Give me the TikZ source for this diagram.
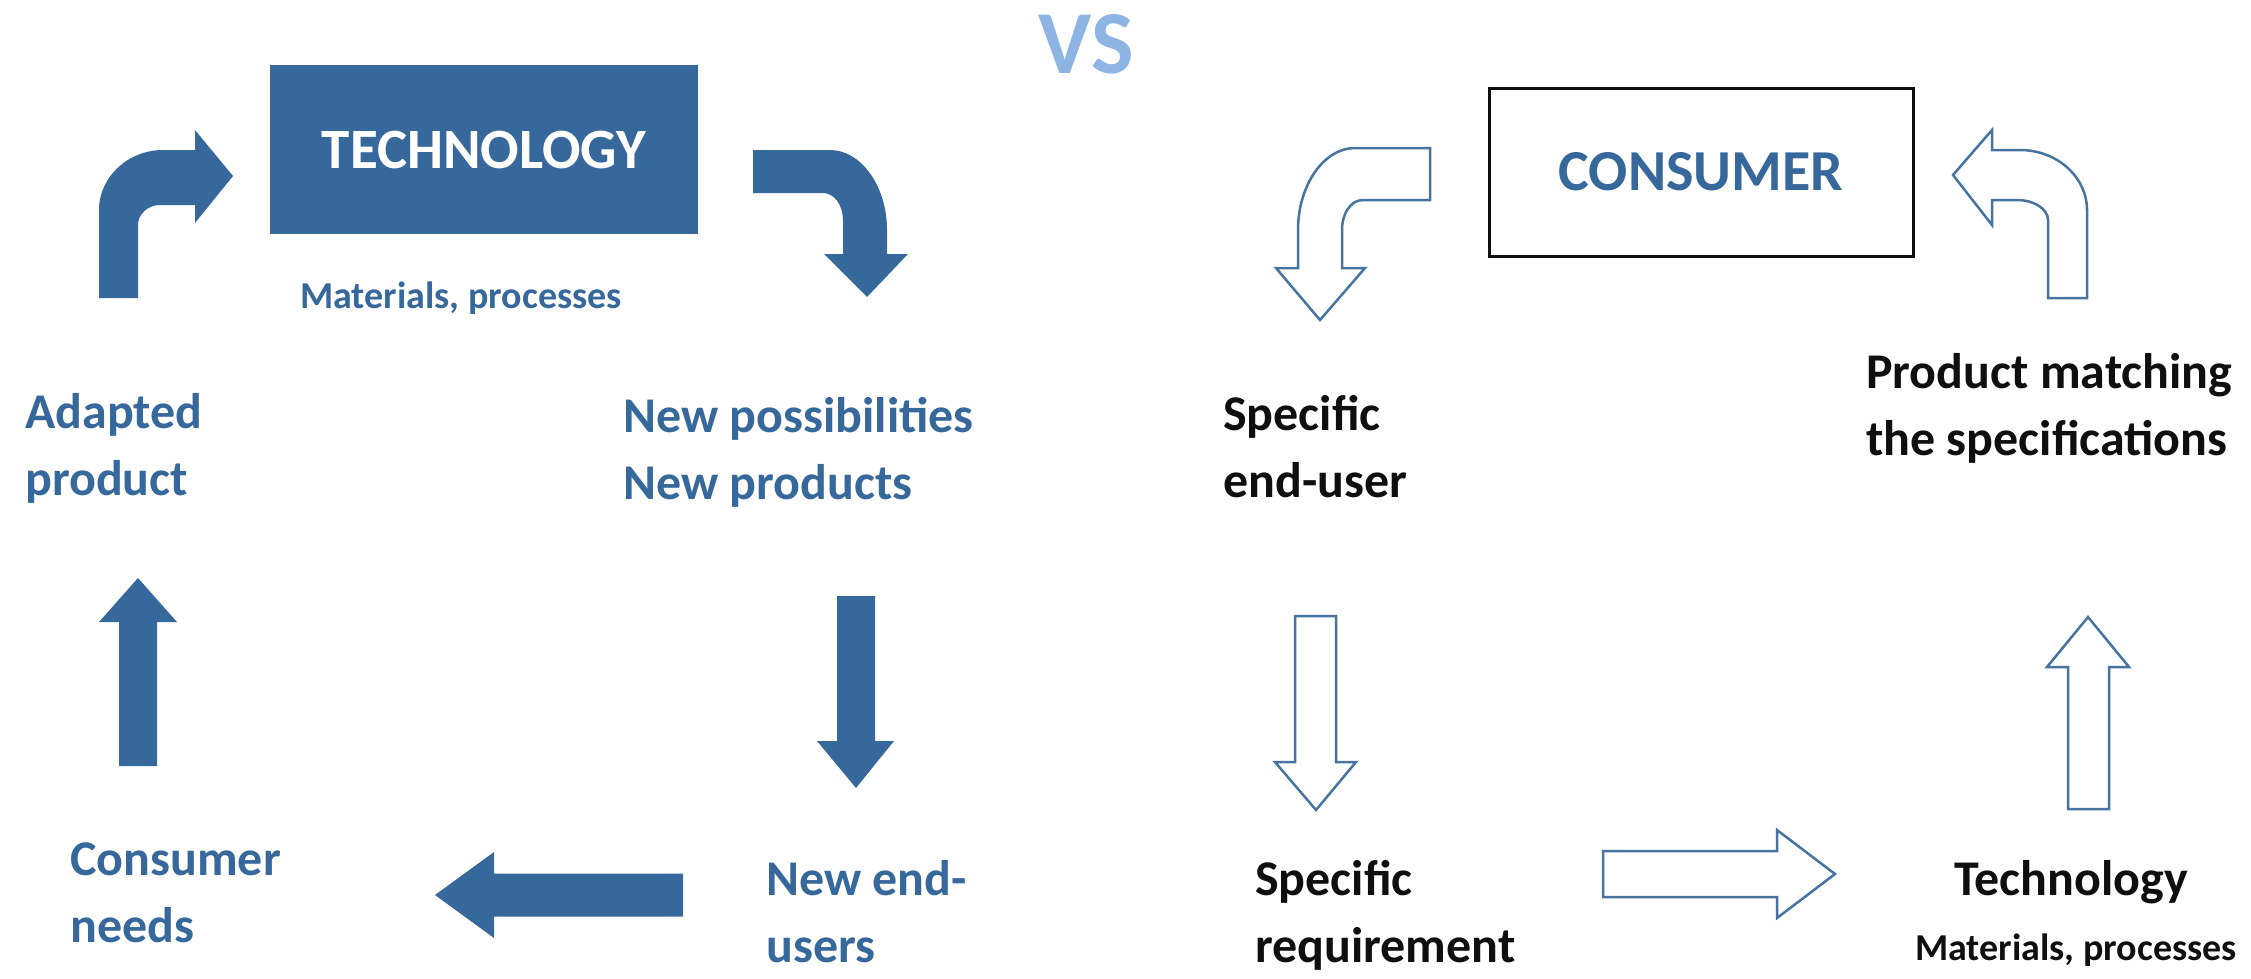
\documentclass[tikz,border=0pt]{standalone}
\usepackage{fontspec}
\setmainfont{Carlito}
\definecolor{techblue}{RGB}{54,104,155}
\definecolor{vsblue}{RGB}{141,180,226}
\definecolor{outlineblue}{RGB}{70,115,160}
\definecolor{inkblack}{RGB}{15,15,15}
\newcommand{\twolines}[2]{\begin{tabular}[t]{@{}l@{}}#1\\#2\end{tabular}}
\begin{document}
\begin{tikzpicture}[x=1pt,y=-1pt,
  solidarrow/.style={fill=techblue,draw=none},
  hollowarrow/.style={draw=outlineblue,line width=2.5pt,fill=white,line join=miter},
  lbl/.style={inner sep=0pt,anchor=base west,font=\fontsize{50}{67}\selectfont\bfseries},
  small/.style={inner sep=0pt,anchor=base,font=\fontsize{38}{46}\selectfont\bfseries},
  techbox/.style={fill=techblue,draw=none,text=white,inner sep=0pt,
    minimum width=428pt,minimum height=169pt,font=\fontsize{57}{60}\selectfont\bfseries},
  consbox/.style={fill=white,draw=inkblack,line width=3pt,text=techblue,inner sep=0pt,
    minimum width=424pt,minimum height=168pt,font=\fontsize{58}{60}\selectfont\bfseries}]
\useasboundingbox (0,0) rectangle (2251,978);

% title
\node[inner sep=0pt,anchor=base,text=vsblue,font=\fontsize{90}{90}\selectfont\bfseries]
  (vs) at (1086,73) {VS};

% ---------------- technology-push cycle ----------------
\node[techbox] (tech) at (484,149.5) {TECHNOLOGY};
\node[small,text=techblue] (techsub) at (461,308) {Materials, processes};

\node[lbl,text=techblue] (adapted) at (25,428) {\twolines{Adapted}{product}};
\node[lbl,text=techblue] (newposs) at (623,432) {\twolines{New possibilities}{New products}};
\node[lbl,text=techblue] (needs) at (70,875) {\twolines{Consumer}{needs}};
\node[lbl,text=techblue] (newusers) at (766,895) {\twolines{New end-}{users}};

% bent arrow: adapted product -> technology
\fill[solidarrow] (99,298) -- (99,210) .. controls (99,177) and (128,150) .. (163,150)
  -- (195,150) -- (195,130) -- (233,176) -- (195,223) -- (195,205) -- (160,205)
  .. controls (148,205) and (138,214) .. (138,225) -- (138,298) -- cycle;
% bent arrow: technology -> new possibilities
\fill[solidarrow] (753,150) -- (830,150) .. controls (861,150) and (887,186) .. (887,230)
  -- (887,254) -- (908,254) -- (867,297) -- (824,254) -- (843,254) -- (843,220)
  .. controls (843,205) and (834,193) .. (823,193) -- (753,193) -- cycle;
% new products -> new end-users
\fill[solidarrow] (837,596) -- (875,596) -- (875,741) -- (894,741) -- (856,788)
  -- (817,741) -- (837,741) -- cycle;
% new end-users -> consumer needs
\fill[solidarrow] (683,873.5) -- (494,873.5) -- (494,852) -- (435,895) -- (494,938)
  -- (494,916.5) -- (683,916.5) -- cycle;
% consumer needs -> adapted product
\fill[solidarrow] (119,766) -- (119,622) -- (99,622) -- (138,578) -- (177,622)
  -- (157,622) -- (157,766) -- cycle;

% ---------------- consumer-pull cycle ----------------
\node[consbox] (cons) at (1701,172) {CONSUMER};

\node[lbl,text=inkblack] (enduser) at (1223,430) {\twolines{Specific}{end-user}};
\node[lbl,text=inkblack] (matching) at (1866,388) {\twolines{Product matching}{the specifications}};
\node[lbl,text=inkblack] (require) at (1255,895) {\twolines{Specific}{requirement}};
\node[inner sep=0pt,anchor=base,text=inkblack,font=\fontsize{50}{60}\selectfont\bfseries]
  (techno) at (2071,895) {Technology};
\node[small,text=inkblack] (technosub) at (2076,960) {Materials, processes};

% bent arrow: consumer -> specific end-user
\filldraw[hollowarrow] (1430,148) -- (1355,148) .. controls (1324,148) and (1298,185) .. (1298,230)
  -- (1298,268) -- (1276,268) -- (1320,320) -- (1365,268) -- (1342,268) -- (1342,230)
  .. controls (1342,213) and (1351,200) .. (1363,200) -- (1430,200) -- cycle;
% bent arrow: product matching -> consumer
\filldraw[hollowarrow] (2048,298) -- (2087,298) -- (2087,210) .. controls (2087,177) and (2057,150) .. (2020,150)
  -- (1992,150) -- (1992,130) -- (1953,175) -- (1992,225) -- (1992,200) -- (2017,200)
  .. controls (2034,200) and (2048,209) .. (2048,220) -- cycle;
% end-user -> requirement
\filldraw[hollowarrow] (1295,616) -- (1336,616) -- (1336,762) -- (1356,762) -- (1316,810)
  -- (1275,762) -- (1295,762) -- cycle;
% requirement -> technology
\filldraw[hollowarrow] (1603,851) -- (1777,851) -- (1777,830) -- (1835,874) -- (1777,918)
  -- (1777,897) -- (1603,897) -- cycle;
% technology -> product matching
\filldraw[hollowarrow] (2068,809) -- (2068,667) -- (2047,667) -- (2088,617) -- (2129,667)
  -- (2109,667) -- (2109,809) -- cycle;
\end{tikzpicture}
\end{document}
